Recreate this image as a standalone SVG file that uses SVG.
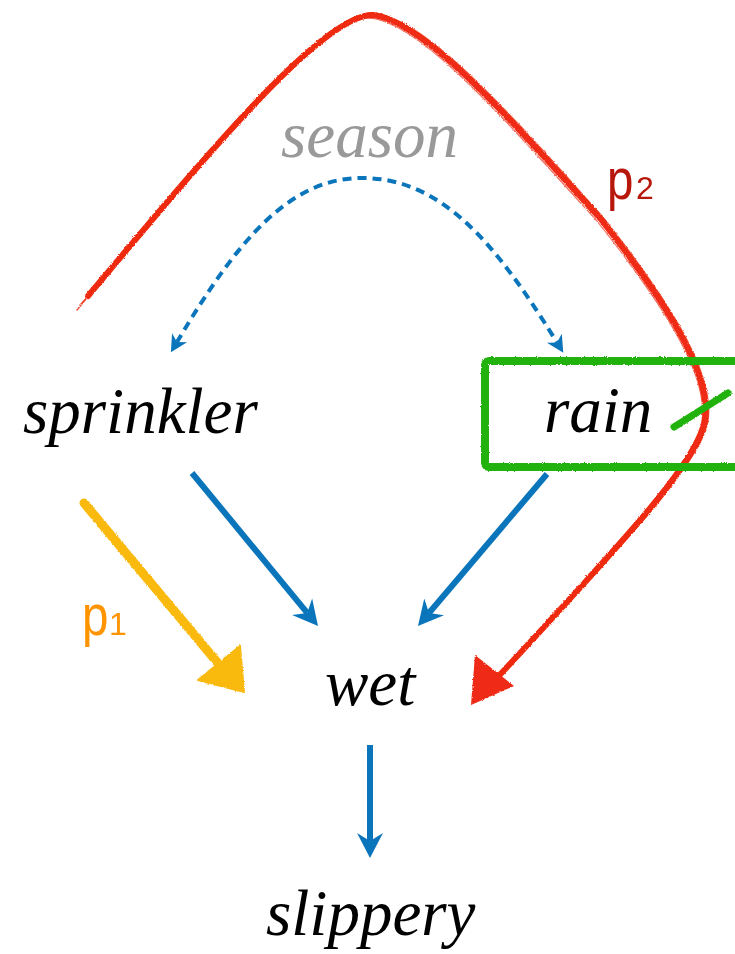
<svg xmlns="http://www.w3.org/2000/svg" width="735" height="954" viewBox="0 0 735 954">
<style>
.lbl{font-family:"Liberation Serif","Times New Roman",serif;font-style:italic;font-size:65px;fill:#000}
.season{fill:#999999}
.p{font-family:"Liberation Sans",Arial,sans-serif}
.blue{stroke:#0b75bb;stroke-width:6;fill:none}
.dash{stroke:#0b75bb;stroke-width:4;fill:none;stroke-dasharray:9 6;stroke-dashoffset:4.5}
.red{stroke:#ef2a12;fill:none;stroke-linecap:round;stroke-linejoin:round}
</style>
<defs>
<filter id="rough" x="-10%" y="-10%" width="120%" height="120%">
<feTurbulence type="fractalNoise" baseFrequency="0.9" numOctaves="2" seed="3" result="n"/>
<feDisplacementMap in="SourceGraphic" in2="n" scale="2.5" xChannelSelector="R" yChannelSelector="G"/>
</filter>
<marker id="ah" markerUnits="userSpaceOnUse" viewBox="-25 -14 26 28" markerWidth="26" markerHeight="28" refX="-17" refY="0" orient="auto">
<path d="M0,0 L-25,-13 L-17,0 L-25,13 Z" fill="#0b75bb"/>
</marker>
<marker id="ahs" markerUnits="userSpaceOnUse" viewBox="-18 -9 19 18" markerWidth="19" markerHeight="18" refX="-12" refY="0" orient="auto">
<path d="M0,0 L-17,-8.7 L-12,0 L-17,8.7 Z" fill="#0b75bb"/>
</marker>
</defs>

<g id="connectors">
<path class="dash" d="M362,178 C 290,178 238,239 177,342" marker-end="url(#ahs)"/>
<path class="dash" d="M362,178 C 440,178 494,240 557,342.5" marker-end="url(#ahs)"/>
<line class="blue" x1="192" y1="473" x2="307.2" y2="612.9" marker-end="url(#ah)"/>
<line class="blue" x1="547" y1="474" x2="429" y2="613" marker-end="url(#ah)"/>
<line class="blue" x1="370" y1="745" x2="370" y2="841" marker-end="url(#ah)"/>
</g>

<g id="path-p2" filter="url(#rough)">
<path class="red" stroke-width="6" d="M88,296 C 190,175 320,15 372,15 C 425,20 515,125 600,218 C 660,295 712,370 705,420 C 700,460 620,545 497,678"/>
<path class="red" stroke-width="1.5" opacity="0.8" d="M77,310 C 190,172 322,12 373,13 C 428,18 518,123 602,216 C 663,293 715,370 708,420 C 703,462 618,550 500,676"/>
<path class="red" stroke-width="1.2" opacity="0.7" d="M80,305 C 192,178 318,18 370,18 C 423,23 512,128 597,221 C 657,297 709,372 702,420 C 697,458 622,543 494,680"/>
<polygon points="475,655 514,686 471,705" fill="#ef2a12"/>
</g>
<g id="label-p2">
<text class="p" x="607" y="199" font-size="58" fill="#b8170b" transform="translate(607 0) scale(0.82 1) translate(-607 0)">p</text>
<text class="p" x="636" y="199" font-size="32" fill="#b8170b">2</text>
</g>

<g id="path-p1" filter="url(#rough)">
<line x1="84" y1="503" x2="222" y2="668" stroke="#f9b90c" stroke-width="9" stroke-linecap="round"/>
<polygon points="198,680 240,646 244,692" fill="#f9b90c" stroke="#f9b90c" stroke-width="2" stroke-linejoin="round"/>
</g>
<g id="label-p1">
<text class="p" x="82" y="635" font-size="58" fill="#ff9400" transform="translate(82 0) scale(0.82 1) translate(-82 0)">p</text>
<text class="p" x="109" y="635" font-size="32" fill="#ff9400">1</text>
</g>

<g id="node-season"><text class="lbl season" x="281" y="157">season</text></g>
<g id="node-sprinkler"><text class="lbl" x="23" y="433">sprinkler</text></g>
<g id="node-rain">
<rect x="485" y="361" width="275" height="106" rx="4" fill="none" stroke="#22b20c" stroke-width="8" filter="url(#rough)"/>
<text class="lbl" x="544" y="432">rain</text>
<line x1="674" y1="427" x2="728" y2="393" stroke="#22b20c" stroke-width="7" stroke-linecap="round" filter="url(#rough)"/>
</g>
<g id="node-wet"><text class="lbl" x="325" y="705">wet</text></g>
<g id="node-slippery"><text class="lbl" x="266" y="935">slippery</text></g>
</svg>
